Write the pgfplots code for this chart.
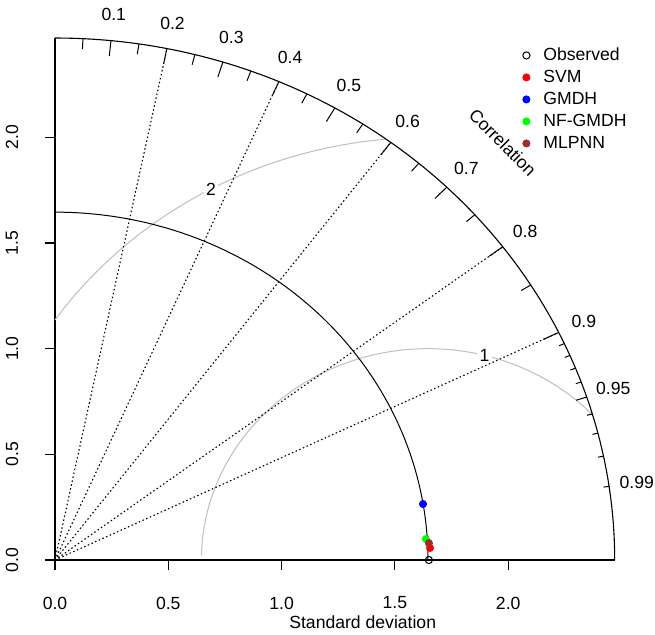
\documentclass[border=0pt]{standalone}
\usepackage{fontspec}
\setmainfont{Liberation Sans}
\usepackage{pgfplots}
\pgfplotsset{compat=1.18}
\definecolor{contgray}{HTML}{BEBEBE}
\definecolor{mlpbrown}{HTML}{A52A2A}
\definecolor{nfgreen}{HTML}{00FF00}
\newcommand\lbl{\fontsize{8.8}{10.5}\selectfont}
\begin{document}
\begin{tikzpicture}
\useasboundingbox (-27.5pt,-37pt) rectangle (300pt,280pt);
\begin{axis}[
  scale only axis, width=279.85pt, height=261pt,
  xmin=0, xmax=2.47, ymin=0, ymax=2.47,
  axis x line=bottom, axis y line=left,
  axis line style={-, line width=0.55pt, black},
  clip=false,
  xtick={0,0.5,1,1.5,2}, ytick={0,0.5,1,1.5,2},
  tick align=outside, major tick length=5pt,
  tick style={black, line width=0.55pt},
  minor tick num=0,
  tick label style={font=\lbl, /pgf/number format/fixed, /pgf/number format/fixed zerofill, /pgf/number format/precision=1, /pgf/number format/assume math mode=true},
  xticklabel style={anchor=center, yshift=-16.5pt},
  yticklabel style={anchor=center, xshift=-16.5pt, rotate=90},
  legend style={at={(0.8326,0.9865)}, anchor=north west, draw=none, fill=none, inner sep=0pt, row sep=1pt, font=\lbl, nodes={inner sep=1pt, text height=6.5pt, text depth=1.5pt}},
  legend cell align=left,
  legend image code/.code={\draw[#1] plot coordinates {(0pt,0pt)}; \path[draw=none, fill=none] (-2.5pt,-2pt) rectangle (7.5pt,2pt);},
]
% gamma (centred RMS) contours
\addplot[contgray, line width=0.5pt, domain=43.4:178.8, samples=120, variable=\t, forget plot] ({1.646+cos(\t)},{sin(\t)});
\addplot[contgray, line width=0.5pt, domain=95.3:145.4, samples=80, variable=\t, forget plot] ({1.646+2*cos(\t)},{2*sin(\t)});
\node[font=\lbl, fill=white, inner sep=1.2pt] at (axis cs:1.895,0.9686) {1};
\node[font=\lbl, fill=white, inner sep=1.2pt] at (axis cs:0.688,1.755) {2};
% correlation rays
\addplot[black, line width=0.55pt, dash pattern=on 0.75pt off 1.25pt, forget plot] coordinates {(0,0) (0.494,2.4201)};
\addplot[black, line width=0.55pt, dash pattern=on 0.75pt off 1.25pt, forget plot] coordinates {(0,0) (0.988,2.2638)};
\addplot[black, line width=0.55pt, dash pattern=on 0.75pt off 1.25pt, forget plot] coordinates {(0,0) (1.482,1.976)};
\addplot[black, line width=0.55pt, dash pattern=on 0.75pt off 1.25pt, forget plot] coordinates {(0,0) (1.976,1.482)};
\addplot[black, line width=0.55pt, dash pattern=on 0.75pt off 1.25pt, forget plot] coordinates {(0,0) (2.223,1.0767)};
% outer arc and reference sd arc
\addplot[black, line width=0.55pt, domain=0:90, samples=181, variable=\t, forget plot] ({2.47*cos(\t)},{2.47*sin(\t)});
\addplot[black, line width=0.5pt, domain=0:90, samples=181, variable=\t, forget plot] ({1.646*cos(\t)},{1.646*sin(\t)});
% ticks on the correlation arc
\pgfplotsinvokeforeach{0.1,0.2,0.3,0.4,0.5,0.6,0.7,0.8,0.9}{
  \draw[black, line width=0.5pt] (axis cs:{2.47*#1},{2.47*sqrt(1-#1*#1)}) -- (axis cs:{0.97*2.47*#1},{0.97*2.47*sqrt(1-#1*#1)});
}
\pgfplotsinvokeforeach{0.05,0.15,0.25,0.35,0.45,0.55,0.65,0.75,0.85,0.95}{
  \draw[black, line width=0.5pt] (axis cs:{2.47*#1},{2.47*sqrt(1-#1*#1)}) -- (axis cs:{0.98*2.47*#1},{0.98*2.47*sqrt(1-#1*#1)});
}
\pgfplotsinvokeforeach{0.91,0.92,0.93,0.94,0.96,0.97,0.98,0.99}{
  \draw[black, line width=0.5pt] (axis cs:{2.47*#1},{2.47*sqrt(1-#1*#1)}) -- (axis cs:{0.99*2.47*#1},{0.99*2.47*sqrt(1-#1*#1)});
}
\pgfplotsinvokeforeach{0.1,0.2,0.3,0.4,0.5,0.6,0.7,0.8,0.9,0.95,0.99}{
  \node[font=\lbl] at (axis cs:{2.5935*#1},{2.5935*sqrt(1-#1*#1)}) {#1};
}
\node[font=\lbl, rotate=-45] at (axis cs:1.976,1.976) {Correlation};
\node[font=\lbl] at (axis cs:1.358,0) [yshift=-31pt] {Standard deviation};
% data points
\addplot[only marks, mark=o, mark size=1.8pt, black, line width=0.5pt] coordinates {(1.650,0)};
\addlegendentry{Observed}
\addplot[only marks, mark=*, mark size=1.8pt, red] coordinates {(1.655,0.057)};
\addlegendentry{SVM}
\addplot[only marks, mark=*, mark size=1.8pt, blue] coordinates {(1.624,0.265)};
\addlegendentry{GMDH}
\addplot[only marks, mark=*, mark size=1.8pt, nfgreen] coordinates {(1.637,0.099)};
\addlegendentry{NF-GMDH}
\addplot[only marks, mark=*, mark size=1.8pt, mlpbrown] coordinates {(1.650,0.080)};
\addlegendentry{MLPNN}
\end{axis}
\end{tikzpicture}
\end{document}
